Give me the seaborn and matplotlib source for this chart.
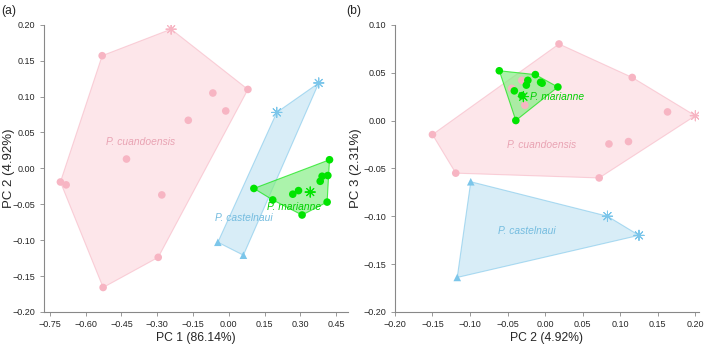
import numpy as np
import pandas as pd
import matplotlib
matplotlib.use("Agg")
import matplotlib.pyplot as plt
from matplotlib import font_manager, ticker
import seaborn as sns

# ---- data ----
SPECIES = ["P. cuandoensis", "P. castelnaui", "P. marianne"]

# panel (a): PC1 vs PC2
a_species = (["P. cuandoensis"] * 12 + ["P. castelnaui"] * 4 + ["P. marianne"] * 11)
a_kind = (["star"] + ["dot"] * 11 + ["star", "star", "tri", "tri"] + ["dot"] * 7 + ["star"] + ["dot"] * 3)
a_pc1 = [-0.242, -0.531, 0.080, -0.067, -0.013, -0.170, -0.429, -0.706, -0.682, -0.281, -0.296, -0.527,
         0.377, 0.201, -0.046, 0.061,
         0.422, 0.391, 0.415, 0.383, 0.105, 0.292, 0.268, 0.341, 0.184, 0.412, 0.307]
a_pc2 = [0.194, 0.157, 0.110, 0.105, 0.080, 0.067, 0.013, -0.019, -0.023, -0.037, -0.124, -0.166,
         0.119, 0.078, -0.103, -0.121,
         0.012, -0.011, -0.010, -0.018, -0.028, -0.031, -0.036, -0.033, -0.044, -0.047, -0.065]

# panel (b): PC2 vs PC3
b_species = a_species
b_kind = (["star"] + ["dot"] * 11 + ["star", "star", "tri", "tri"] + ["dot"] * 9 + ["star", "dot"])
b_pc2 = [0.200, 0.0185, 0.116, 0.163, -0.150, 0.085, 0.111, -0.119, 0.072, -0.031, -0.0445, -0.027,
         0.125, 0.083, -0.099, -0.117,
         -0.061, -0.013, -0.023, -0.006, -0.004, -0.025, 0.017, -0.041, -0.031, -0.029, -0.039]
b_pc3 = [0.005, 0.080, 0.045, 0.009, -0.0147, -0.0245, -0.022, -0.055, -0.060, 0.042, 0.0336, 0.016,
         -0.120, -0.100, -0.064, -0.164,
         0.052, 0.048, 0.042, 0.040, 0.039, 0.037, 0.035, 0.031, 0.026, 0.025, 0.000]

# group label positions (data coords)
a_label_xy = {"P. cuandoensis": (-0.368, 0.037), "P. castelnaui": (0.061, -0.069), "P. marianne": (0.275, -0.054)}
b_label_xy = {"P. cuandoensis": (-0.005, -0.026), "P. castelnaui": (-0.024, -0.115), "P. marianne": (0.016, 0.025)}

COLORS = {"P. cuandoensis": "#f7b5c3", "P. castelnaui": "#7cc6ea", "P. marianne": "#00e400"}
FILLS = {"P. cuandoensis": "#fcd6dd", "P. castelnaui": "#bfe2f3", "P. marianne": "#7fee7f"}
ALPHAS = {"P. cuandoensis": 0.6, "P. castelnaui": 0.6, "P. marianne": 0.65}
TEXTC = {"P. cuandoensis": "#e9a3b3", "P. castelnaui": "#74bcdf", "P. marianne": "#00d000"}

# the reference looks horizontally squeezed: use a narrow face for horizontal text
_names = {f.name for f in font_manager.fontManager.ttflist}
if "Liberation Sans Narrow" in _names:
    NARROW, NSCALE = "Liberation Sans Narrow", 1.0
else:
    NARROW, NSCALE = "Liberation Sans", 0.87


def hull(pts):
    pts = sorted(map(tuple, pts))
    def cross(o, a, b):
        return (a[0] - o[0]) * (b[1] - o[1]) - (a[1] - o[1]) * (b[0] - o[0])
    lower, upper = [], []
    for p in pts:
        while len(lower) >= 2 and cross(lower[-2], lower[-1], p) <= 0:
            lower.pop()
        lower.append(p)
    for p in reversed(pts):
        while len(upper) >= 2 and cross(upper[-2], upper[-1], p) <= 0:
            upper.pop()
        upper.append(p)
    return np.array(lower[:-1] + upper[:-1])


def fmt(v, pos=None):
    v = round(v, 2)
    if abs(v) < 1e-9:
        v = 0.0
    return f"{v:.2f}".replace("-", "\u2212")


def draw_panel(ax, df, xcol, ycol, label_xy):
    for sp in SPECIES:
        sub = df[df.species == sp]
        h = hull(sub[[xcol, ycol]].values)
        ax.fill(h[:, 0], h[:, 1], facecolor=FILLS[sp], alpha=ALPHAS[sp],
                edgecolor=COLORS[sp], linewidth=0.8, zorder=1)
    filled = df[df.kind != "star"]
    sns.scatterplot(data=filled, x=xcol, y=ycol, hue="species", style="kind",
                    markers={"dot": "o", "tri": "^"}, palette=COLORS, s=30,
                    linewidth=0, legend=False, ax=ax, zorder=3)
    stars = df[df.kind == "star"]
    sns.scatterplot(data=stars, x=xcol, y=ycol, hue="species", palette=COLORS,
                    marker=(8, 2, 0), s=55, linewidth=0.7, legend=False, ax=ax, zorder=3)
    for sp, (tx, ty) in label_xy.items():
        ax.text(tx, ty, sp, color=TEXTC[sp], style="italic", fontsize=8.5 * NSCALE,
                family=NARROW, ha="center", va="center", zorder=4)


sns.set_style("ticks")
plt.rcParams["font.family"] = ["Liberation Sans", "DejaVu Sans"]

df_a = pd.DataFrame({"species": a_species, "kind": a_kind, "PC1": a_pc1, "PC2": a_pc2})
df_b = pd.DataFrame({"species": b_species, "kind": b_kind, "PC2": b_pc2, "PC3": b_pc3})

fig = plt.figure(figsize=(7.09, 3.45), dpi=100)
ax1 = fig.add_axes([0.062, 0.096, 0.429, 0.832])
ax2 = fig.add_axes([0.557, 0.096, 0.429, 0.832])

draw_panel(ax1, df_a, "PC1", "PC2", a_label_xy)
draw_panel(ax2, df_b, "PC2", "PC3", b_label_xy)

ax1.set_xlim(-0.775, 0.50)
ax1.set_ylim(-0.20, 0.20)
ax1.set_xticks(np.arange(-0.75, 0.46, 0.15))
ax1.set_yticks(np.arange(-0.20, 0.201, 0.05))
ax1.set_xlabel("PC 1 (86.14%)", fontsize=10 * NSCALE, family=NARROW)
ax1.set_ylabel("PC 2 (4.92%)", fontsize=9.5)
ax1.xaxis.set_label_coords(0.5, -0.07)
ax1.yaxis.set_label_coords(-0.094, 0.5)

ax2.set_xlim(-0.20, 0.205)
ax2.set_ylim(-0.20, 0.10)
ax2.set_xticks(np.arange(-0.20, 0.201, 0.05))
ax2.set_yticks(np.arange(-0.20, 0.101, 0.05))
ax2.set_xlabel("PC 2 (4.92%)", fontsize=10 * NSCALE, family=NARROW)
ax2.set_ylabel("PC 3 (2.31%)", fontsize=9.5)
ax2.xaxis.set_label_coords(0.5, -0.07)
ax2.yaxis.set_label_coords(-0.108, 0.5)

for ax in (ax1, ax2):
    sns.despine(ax=ax)
    ax.xaxis.set_major_formatter(ticker.FuncFormatter(fmt))
    ax.yaxis.set_major_formatter(ticker.FuncFormatter(fmt))
    ax.tick_params(labelsize=7.5 * NSCALE, length=3, width=0.6, color="#888888", pad=3)
    for lab in ax.get_xticklabels() + ax.get_yticklabels():
        lab.set_family(NARROW)
    for s in ("left", "bottom"):
        ax.spines[s].set_color("#888888")
        ax.spines[s].set_linewidth(0.8)

fig.text(0.002, 0.985, "(a)", fontsize=10 * NSCALE, family=NARROW, va="top")
fig.text(0.489, 0.985, "(b)", fontsize=10 * NSCALE, family=NARROW, va="top")

fig.savefig("out.png", dpi=100)
